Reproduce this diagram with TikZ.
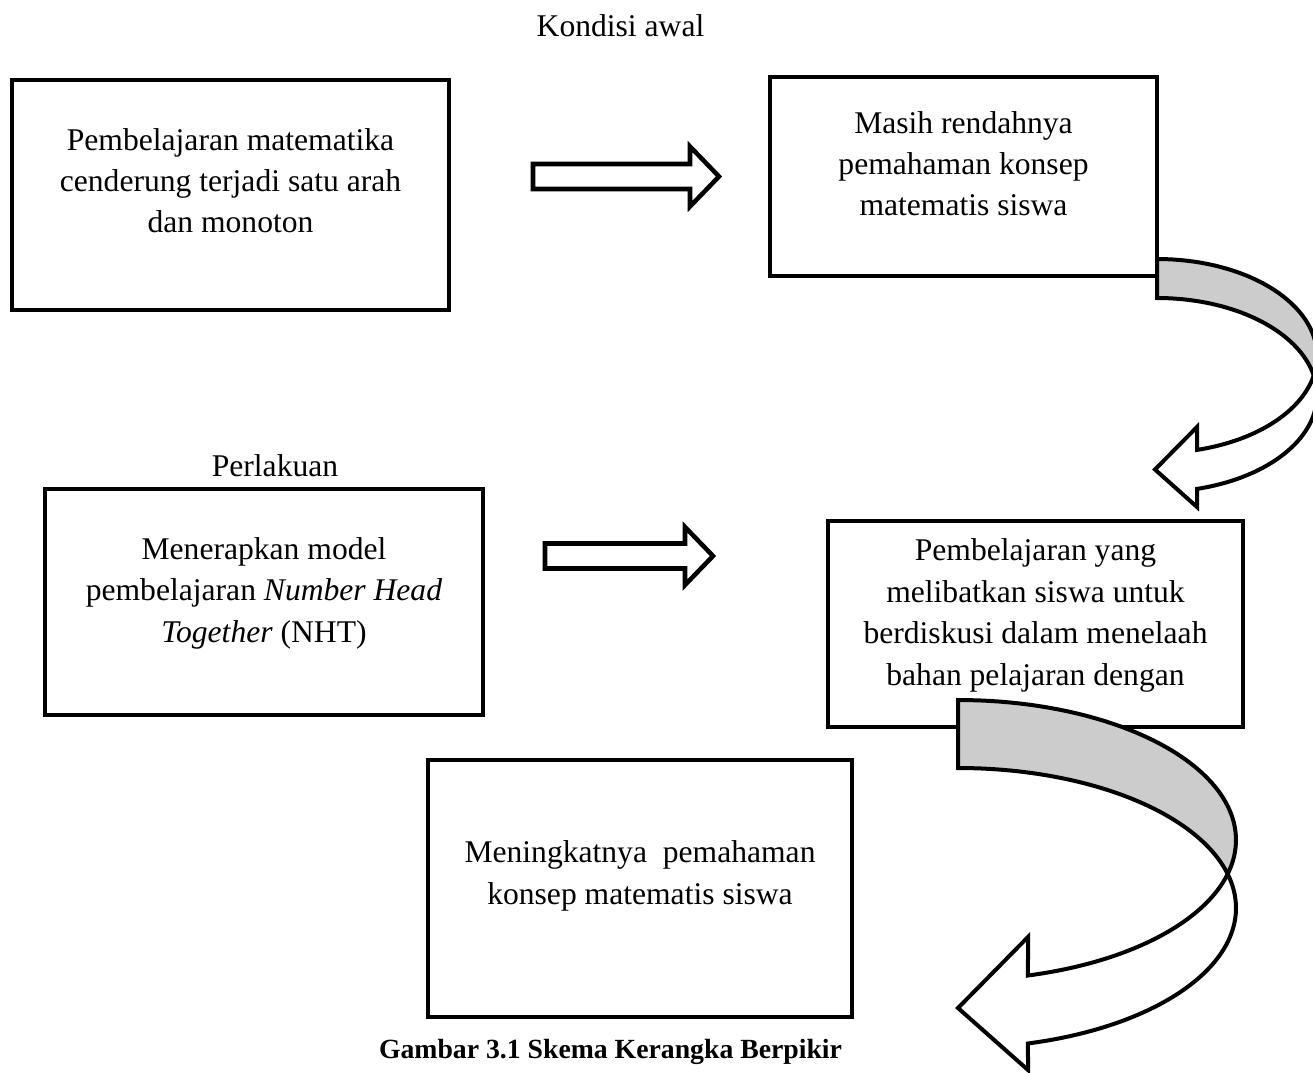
\documentclass[tikz,border=0pt]{standalone}
\usepackage{fontspec}
\setmainfont{Liberation Serif}
\newcommand{\fsz}{\fontsize{23.7pt}{31.1pt}\selectfont}
\newcommand{\capsz}{\fontsize{20.8pt}{26pt}\selectfont}
\definecolor{shade}{HTML}{CCCCCC}
\begin{document}
\begin{tikzpicture}[x=0.75pt,y=-0.75pt,
  box/.style={draw, line width=3pt, inner sep=0pt, rectangle},
  txt/.style={font=\fsz, align=center, inner sep=0pt, anchor=base},
  barrow/.style={draw, line width=3.4pt, fill=white, line join=miter},
  carrow/.style={draw, line width=3pt, line join=miter}]
\useasboundingbox (0,0) rectangle (1313,1073);
\clip (0,0) rectangle (1313,1073);

% boxes
\node[box, minimum width=327.75pt, minimum height=172.5pt] (b1) at (230.5,195) {};
\node[box, minimum width=290.25pt, minimum height=149.25pt] (b2) at (963.5,176.5) {};
\node[box, minimum width=328.5pt, minimum height=169.5pt] (b3) at (264,602) {};
\node[box, minimum width=311.25pt, minimum height=154.5pt] (b4) at (1035.5,624) {};
\node[box, minimum width=318pt, minimum height=192.75pt] (b5) at (640,888.5) {};

% texts (anchor base = baseline of the last line)
\node[txt] (kond) at (620.5,37) {Kondisi awal};
\node[txt] (t1) at (230.5,233) {Pembelajaran matematika\\cenderung terjadi satu arah\\dan monoton};
\node[txt] (t2) at (963.5,216) {Masih rendahnya\\pemahaman konsep\\matematis siswa};
\node[txt] (perl) at (275,476) {Perlakuan};
\node[txt] (t3) at (264,642) {Menerapkan model\\pembelajaran \textit{Number Head}\\\textit{Together} (NHT)};
\node[txt] (t4) at (1035.5,685) {Pembelajaran yang\\melibatkan siswa untuk\\berdiskusi dalam menelaah\\bahan pelajaran dengan};
\node[txt] (t5) at (640,904) {Meningkatnya\ \ pemahaman\\konsep matematis siswa};
\node[txt, font=\capsz\bfseries] (cap) at (610.5,1058) {Gambar 3.1 Skema Kerangka Berpikir};

% block arrows
\coordinate (a1s) at (533,176.5);
\draw[barrow] (a1s) ++(0,-12.5) -- ++(157,0) -- ++(0,-17.5) -- ++(29,30) -- ++(-29,30) -- ++(0,-17.5) -- ++(-157,0) -- cycle;
\coordinate (a2s) at (545,556);
\draw[barrow] (a2s) ++(0,-12.5) -- ++(140,0) -- ++(0,-16.5) -- ++(28,29) -- ++(-28,29) -- ++(0,-16.5) -- ++(-140,0) -- cycle;

% curved arrow 1
\draw[carrow, fill=shade] plot[domain=90:-11.6, samples=40] ({1157+160*cos(\x)},{356-97*sin(\x)})
  -- plot[domain=11.6:90, samples=40] ({1157+160*cos(\x)},{395-97*sin(\x)}) -- cycle;
\draw[carrow, fill=white] plot[domain=-11.6:-75.52, samples=40] ({1157+160*cos(\x)},{356-97*sin(\x)})
  -- (1197,427) -- (1155,469.5) -- (1197,507)
  -- plot[domain=-75.52:11.6, samples=40] ({1157+160*cos(\x)},{395-97*sin(\x)}) -- cycle;

% curved arrow 2
\draw[carrow, fill=shade] plot[domain=90:-14.05, samples=50] ({958+278*cos(\x)},{840-140*sin(\x)})
  -- plot[domain=14.05:90, samples=50] ({958+278*cos(\x)},{908-140*sin(\x)}) -- cycle;
\draw[carrow, fill=white] plot[domain=-14.05:-75.42, samples=50] ({958+278*cos(\x)},{840-140*sin(\x)})
  -- (1028,937) -- (958,1008) -- (1028,1070)
  -- plot[domain=-75.42:14.05, samples=50] ({958+278*cos(\x)},{908-140*sin(\x)}) -- cycle;
\end{tikzpicture}
\end{document}
